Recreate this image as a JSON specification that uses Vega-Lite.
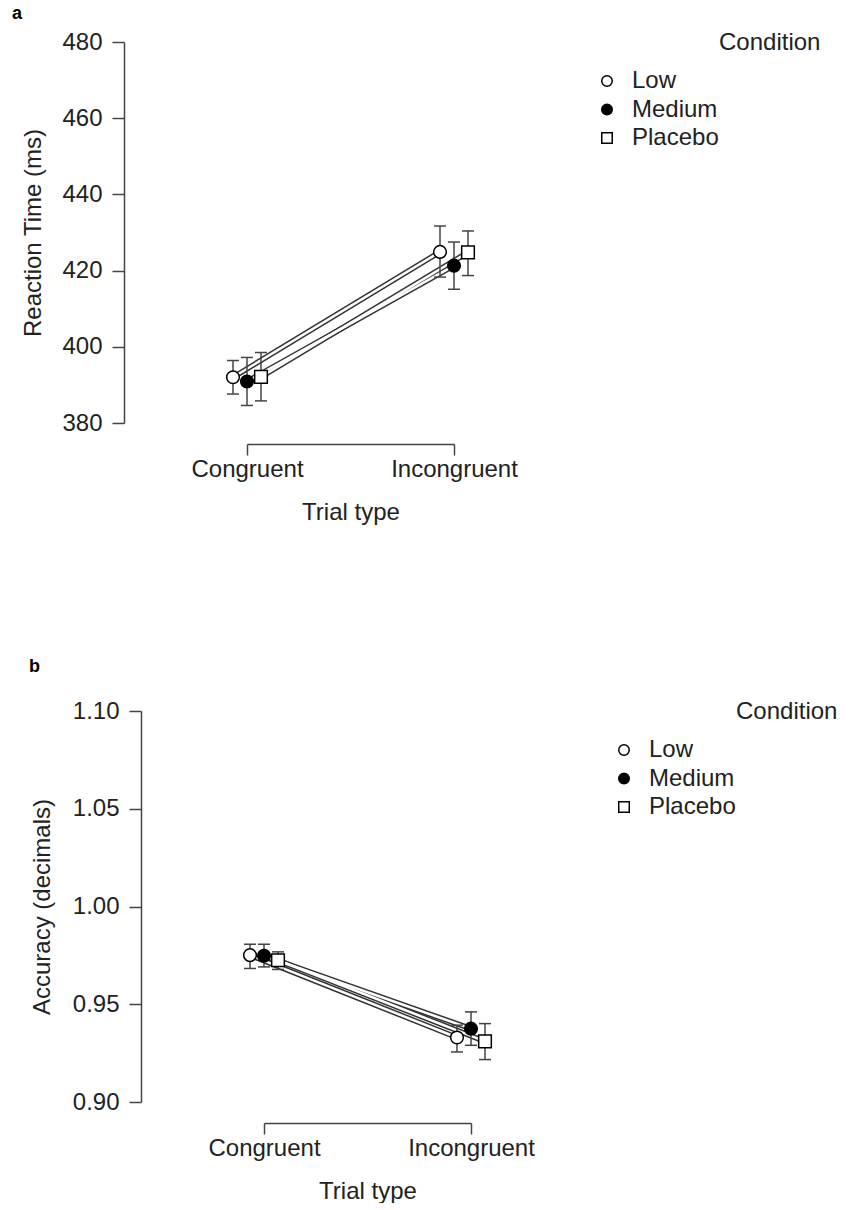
{
  "$schema": "https://vega.github.io/schema/vega-lite/v6.json",
  "background": "white",
  "padding": {"left": 12, "top": 5, "right": 0, "bottom": 0},
  "datasets": {
    "rt": [
      {"trial": "Congruent", "condition": "Low", "mean": 392.0, "lo": 387.6, "hi": 396.4},
      {"trial": "Congruent", "condition": "Medium", "mean": 390.9, "lo": 384.6, "hi": 397.2},
      {"trial": "Congruent", "condition": "Placebo", "mean": 392.1, "lo": 385.8, "hi": 398.5},
      {"trial": "Incongruent", "condition": "Low", "mean": 424.9, "lo": 418.3, "hi": 431.7},
      {"trial": "Incongruent", "condition": "Medium", "mean": 421.3, "lo": 415.1, "hi": 427.5},
      {"trial": "Incongruent", "condition": "Placebo", "mean": 424.8, "lo": 418.7, "hi": 430.4}
    ],
    "acc": [
      {"trial": "Congruent", "condition": "Low", "mean": 0.9751, "lo": 0.9683, "hi": 0.9807},
      {"trial": "Congruent", "condition": "Medium", "mean": 0.9748, "lo": 0.9691, "hi": 0.9807},
      {"trial": "Congruent", "condition": "Placebo", "mean": 0.9725, "lo": 0.9678, "hi": 0.9768},
      {"trial": "Incongruent", "condition": "Low", "mean": 0.9330, "lo": 0.9256, "hi": 0.9393},
      {"trial": "Incongruent", "condition": "Medium", "mean": 0.9375, "lo": 0.9290, "hi": 0.9461},
      {"trial": "Incongruent", "condition": "Placebo", "mean": 0.9310, "lo": 0.9217, "hi": 0.9401}
    ]
  },
  "concat": [
    {
      "width": 460,
      "height": 381,
      "title": {"text": "a", "anchor": "start", "frame": "group", "dx": -112, "fontSize": 18, "fontWeight": "bold", "color": "black", "offset": -7, "baseline": "alphabetic"},
      "data": {"name": "rt"},
      "encoding": {
        "x": {"field": "trial", "type": "nominal", "sort": ["Congruent", "Incongruent"],
              "scale": {"type": "point", "domain": ["Congruent", "Incongruent"], "range": [123, 330], "padding": 0},
              "axis": {"title": "Trial type", "offset": 21, "labelAngle": 0, "tickSize": 11, "labelPadding": 2, "titlePadding": 19}},
        "xOffset": {"field": "condition", "type": "nominal", "scale": {"type": "point", "domain": ["Low", "Medium", "Placebo"], "range": [-14, 14], "padding": 0}},
        "y": {"field": "mean", "type": "quantitative", "title": "Reaction Time (ms)",
              "scale": {"domain": [380, 480], "nice": false, "zero": false},
              "axis": {"values": [380, 400, 420, 440, 460, 480], "tickSize": 12, "labelPadding": 10, "titlePadding": 16}}
      },
      "layer": [
        {"mark": {"type": "line", "stroke": "#333", "strokeWidth": 5.5}, "encoding": {"detail": {"field": "condition"}}},
        {"mark": {"type": "line", "stroke": "white", "strokeWidth": 2.5}, "encoding": {"detail": {"field": "condition"}}},
        {"mark": {"type": "rule", "stroke": "#444", "strokeWidth": 1.5},
         "encoding": {"y": {"field": "lo", "type": "quantitative", "title": "Reaction Time (ms)"}, "y2": {"field": "hi"}}},
        {"mark": {"type": "tick", "size": 12, "thickness": 1.5, "color": "#444", "opacity": 1},
         "encoding": {"y": {"field": "lo", "type": "quantitative", "title": "Reaction Time (ms)"}}},
        {"mark": {"type": "tick", "size": 12, "thickness": 1.5, "color": "#444", "opacity": 1},
         "encoding": {"y": {"field": "hi", "type": "quantitative", "title": "Reaction Time (ms)"}}},
        {"mark": {"type": "point", "filled": true, "size": 160, "stroke": "black", "strokeWidth": 1.5, "opacity": 1},
         "encoding": {
           "fill": {"field": "condition", "type": "nominal", "title": "Condition",
                    "scale": {"domain": ["Low", "Medium", "Placebo"], "range": ["white", "black", "white"]},
                    "legend": {"orient": "none", "legendX": 471, "legendY": -11, "titleAnchor": "end", "titleAlign": "left", "titlePadding": 14, "rowPadding": 4.5, "labelOffset": 13, "symbolSize": 110, "symbolStrokeColor": "black", "symbolStrokeWidth": 1.5, "padding": 0}},
           "shape": {"field": "condition", "type": "nominal", "title": "Condition",
                     "scale": {"domain": ["Low", "Medium", "Placebo"], "range": ["circle", "circle", "square"]}}
         }}
      ]
    },
    {
      "width": 460,
      "height": 391,
      "title": {"text": "b", "anchor": "start", "frame": "group", "dx": -95, "fontSize": 18, "fontWeight": "bold", "color": "black", "offset": 9, "baseline": "alphabetic"},
      "data": {"name": "acc"},
      "encoding": {
        "x": {"field": "trial", "type": "nominal", "sort": ["Congruent", "Incongruent"],
              "scale": {"type": "point", "domain": ["Congruent", "Incongruent"], "range": [140, 347], "padding": 0},
              "axis": {"title": "Trial type", "offset": 21, "labelAngle": 0, "tickSize": 11, "labelPadding": 2, "titlePadding": 19}},
        "xOffset": {"field": "condition", "type": "nominal", "scale": {"type": "point", "domain": ["Low", "Medium", "Placebo"], "range": [-14, 14], "padding": 0}},
        "y": {"field": "mean", "type": "quantitative", "title": "Accuracy (decimals)",
              "scale": {"domain": [0.9, 1.1], "nice": false, "zero": false},
              "axis": {"values": [0.9, 0.95, 1.0, 1.05, 1.1], "format": ".2f", "offset": -17, "tickSize": 12, "labelPadding": 10, "titlePadding": 18}}
      },
      "layer": [
        {"mark": {"type": "line", "stroke": "#333", "strokeWidth": 5.5}, "encoding": {"detail": {"field": "condition"}}},
        {"mark": {"type": "line", "stroke": "white", "strokeWidth": 2.5}, "encoding": {"detail": {"field": "condition"}}},
        {"mark": {"type": "rule", "stroke": "#444", "strokeWidth": 1.5},
         "encoding": {"y": {"field": "lo", "type": "quantitative", "title": "Accuracy (decimals)"}, "y2": {"field": "hi"}}},
        {"mark": {"type": "tick", "size": 12, "thickness": 1.5, "color": "#444", "opacity": 1},
         "encoding": {"y": {"field": "lo", "type": "quantitative", "title": "Accuracy (decimals)"}}},
        {"mark": {"type": "tick", "size": 12, "thickness": 1.5, "color": "#444", "opacity": 1},
         "encoding": {"y": {"field": "hi", "type": "quantitative", "title": "Accuracy (decimals)"}}},
        {"mark": {"type": "point", "filled": true, "size": 160, "stroke": "black", "strokeWidth": 1.5, "opacity": 1},
         "encoding": {
           "fill": {"field": "condition", "type": "nominal", "title": "Condition",
                    "scale": {"domain": ["Low", "Medium", "Placebo"], "range": ["white", "black", "white"]},
                    "legend": {"orient": "none", "legendX": 488, "legendY": -11, "titleAnchor": "end", "titleAlign": "left", "titlePadding": 14, "rowPadding": 4.5, "labelOffset": 13, "symbolSize": 110, "symbolStrokeColor": "black", "symbolStrokeWidth": 1.5, "padding": 0}},
           "shape": {"field": "condition", "type": "nominal", "title": "Condition",
                     "scale": {"domain": ["Low", "Medium", "Placebo"], "range": ["circle", "circle", "square"]}}
         }}
      ]
    }
  ],
  "columns": 1,
  "spacing": 134,
  "resolve": {
    "scale": {"fill": "independent", "shape": "independent", "y": "independent", "x": "independent", "xOffset": "independent"},
    "legend": {"fill": "independent", "shape": "independent"},
    "axis": {"x": "independent", "y": "independent"}
  },
  "config": {
    "font": "Liberation Sans",
    "view": {"stroke": null},
    "axis": {
      "grid": false,
      "domainColor": "#444",
      "domainWidth": 1.5,
      "tickColor": "#444",
      "tickWidth": 1.5,
      "labelFontSize": 24,
      "labelColor": "#222",
      "titleFontSize": 24,
      "titleFontWeight": "normal",
      "titleColor": "#222"
    },
    "legend": {
      "titleFontSize": 24,
      "titleFontWeight": "normal",
      "titleColor": "#222",
      "labelFontSize": 24,
      "labelColor": "#222"
    }
  }
}
